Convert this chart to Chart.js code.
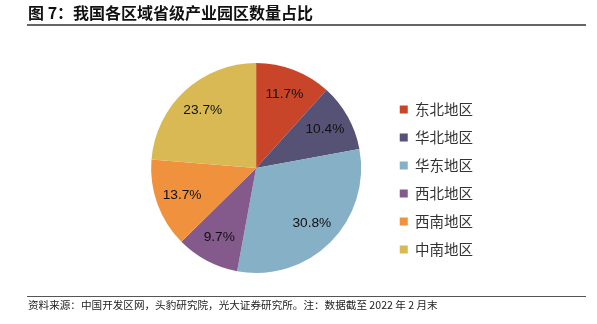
<!DOCTYPE html>
<html>
<head>
<meta charset="utf-8">
<script src="https://cdn.jsdelivr.net/npm/chart.js@4"></script>
<style>
  body { margin: 0; background: #fff; font-family: "Noto Sans CJK SC", sans-serif; }
  #wrap { position: relative; width: 597px; height: 324px; overflow: hidden; }
  #title { position: absolute; left: 28px; top: 1px; font-size: 16px; font-weight: bold; color: #111; line-height: 22px; }
  #topline { position: absolute; left: 27px; width: 559px; top: 24px; border-top: 2px solid #666; }
  #botline { position: absolute; left: 27px; width: 559px; top: 296px; border-top: 1px solid #555; }
  #source { position: absolute; left: 28px; top: 298px; font-size: 10.6px; color: #222; line-height: 14px; }
  canvas { position: absolute; left: 0; top: 0; }
</style>
</head>
<body>
<div id="wrap">
  <canvas id="pieChart" width="597" height="324"></canvas>
  <div id="title">图 7：我国各区域省级产业园区数量占比</div>
  <div id="topline"></div>
  <div id="botline"></div>
  <div id="source">资料来源：中国开发区网，头豹研究院，光大证券研究所。注：数据截至 2022 年 2 月末</div>
</div>
<script>
/*---------------------------- data ------------------------------------*/
var regions = ["东北地区", "华北地区", "华东地区", "西北地区", "西南地区", "中南地区"];
var shares = [11.7, 10.4, 30.8, 9.7, 13.7, 23.7];
var sliceColors = ["#c8452a", "#555275", "#86b0c5", "#835a8b", "#f0913d", "#d9b954"];

/*---------------------------- labels on slices ------------------------------------*/
var sliceLabels = {
  id: "sliceLabels",
  afterDatasetsDraw: function (chart) {
    var ctx = chart.ctx;
    var meta = chart.getDatasetMeta(0);
    ctx.save();
    ctx.font = "13.7px Arial, 'Liberation Sans', sans-serif";
    ctx.fillStyle = "#111";
    ctx.textAlign = "center";
    ctx.textBaseline = "middle";
    meta.data.forEach(function (arc, i) {
      var mid = (arc.startAngle + arc.endAngle) / 2;
      var r = arc.outerRadius * 0.75;
      ctx.fillText(shares[i].toFixed(1) + "%", arc.x + Math.cos(mid) * r, arc.y + Math.sin(mid) * r);
    });
    ctx.restore();
  }
};

new Chart("pieChart", {
  type: "pie",
  data: {
    labels: regions,
    datasets: [{
      data: shares,
      backgroundColor: sliceColors,
      borderWidth: 0
    }]
  },
  options: {
    responsive: false,
    animation: false,
    layout: { padding: { top: 63, bottom: 51, left: 126, right: 114 } },
    plugins: {
      tooltip: { enabled: false },
      legend: {
        position: "right",
        title: { display: true, text: " ", font: { size: 1 }, padding: { top: 11, bottom: 11 } },
        labels: {
          boxWidth: 8,
          boxHeight: 8,
          padding: 13.5,
          color: "#333",
          font: { size: 14.5, family: "'Noto Sans CJK SC', sans-serif" }
        }
      }
    }
  },
  plugins: [sliceLabels]
});
</script>
</body>
</html>
